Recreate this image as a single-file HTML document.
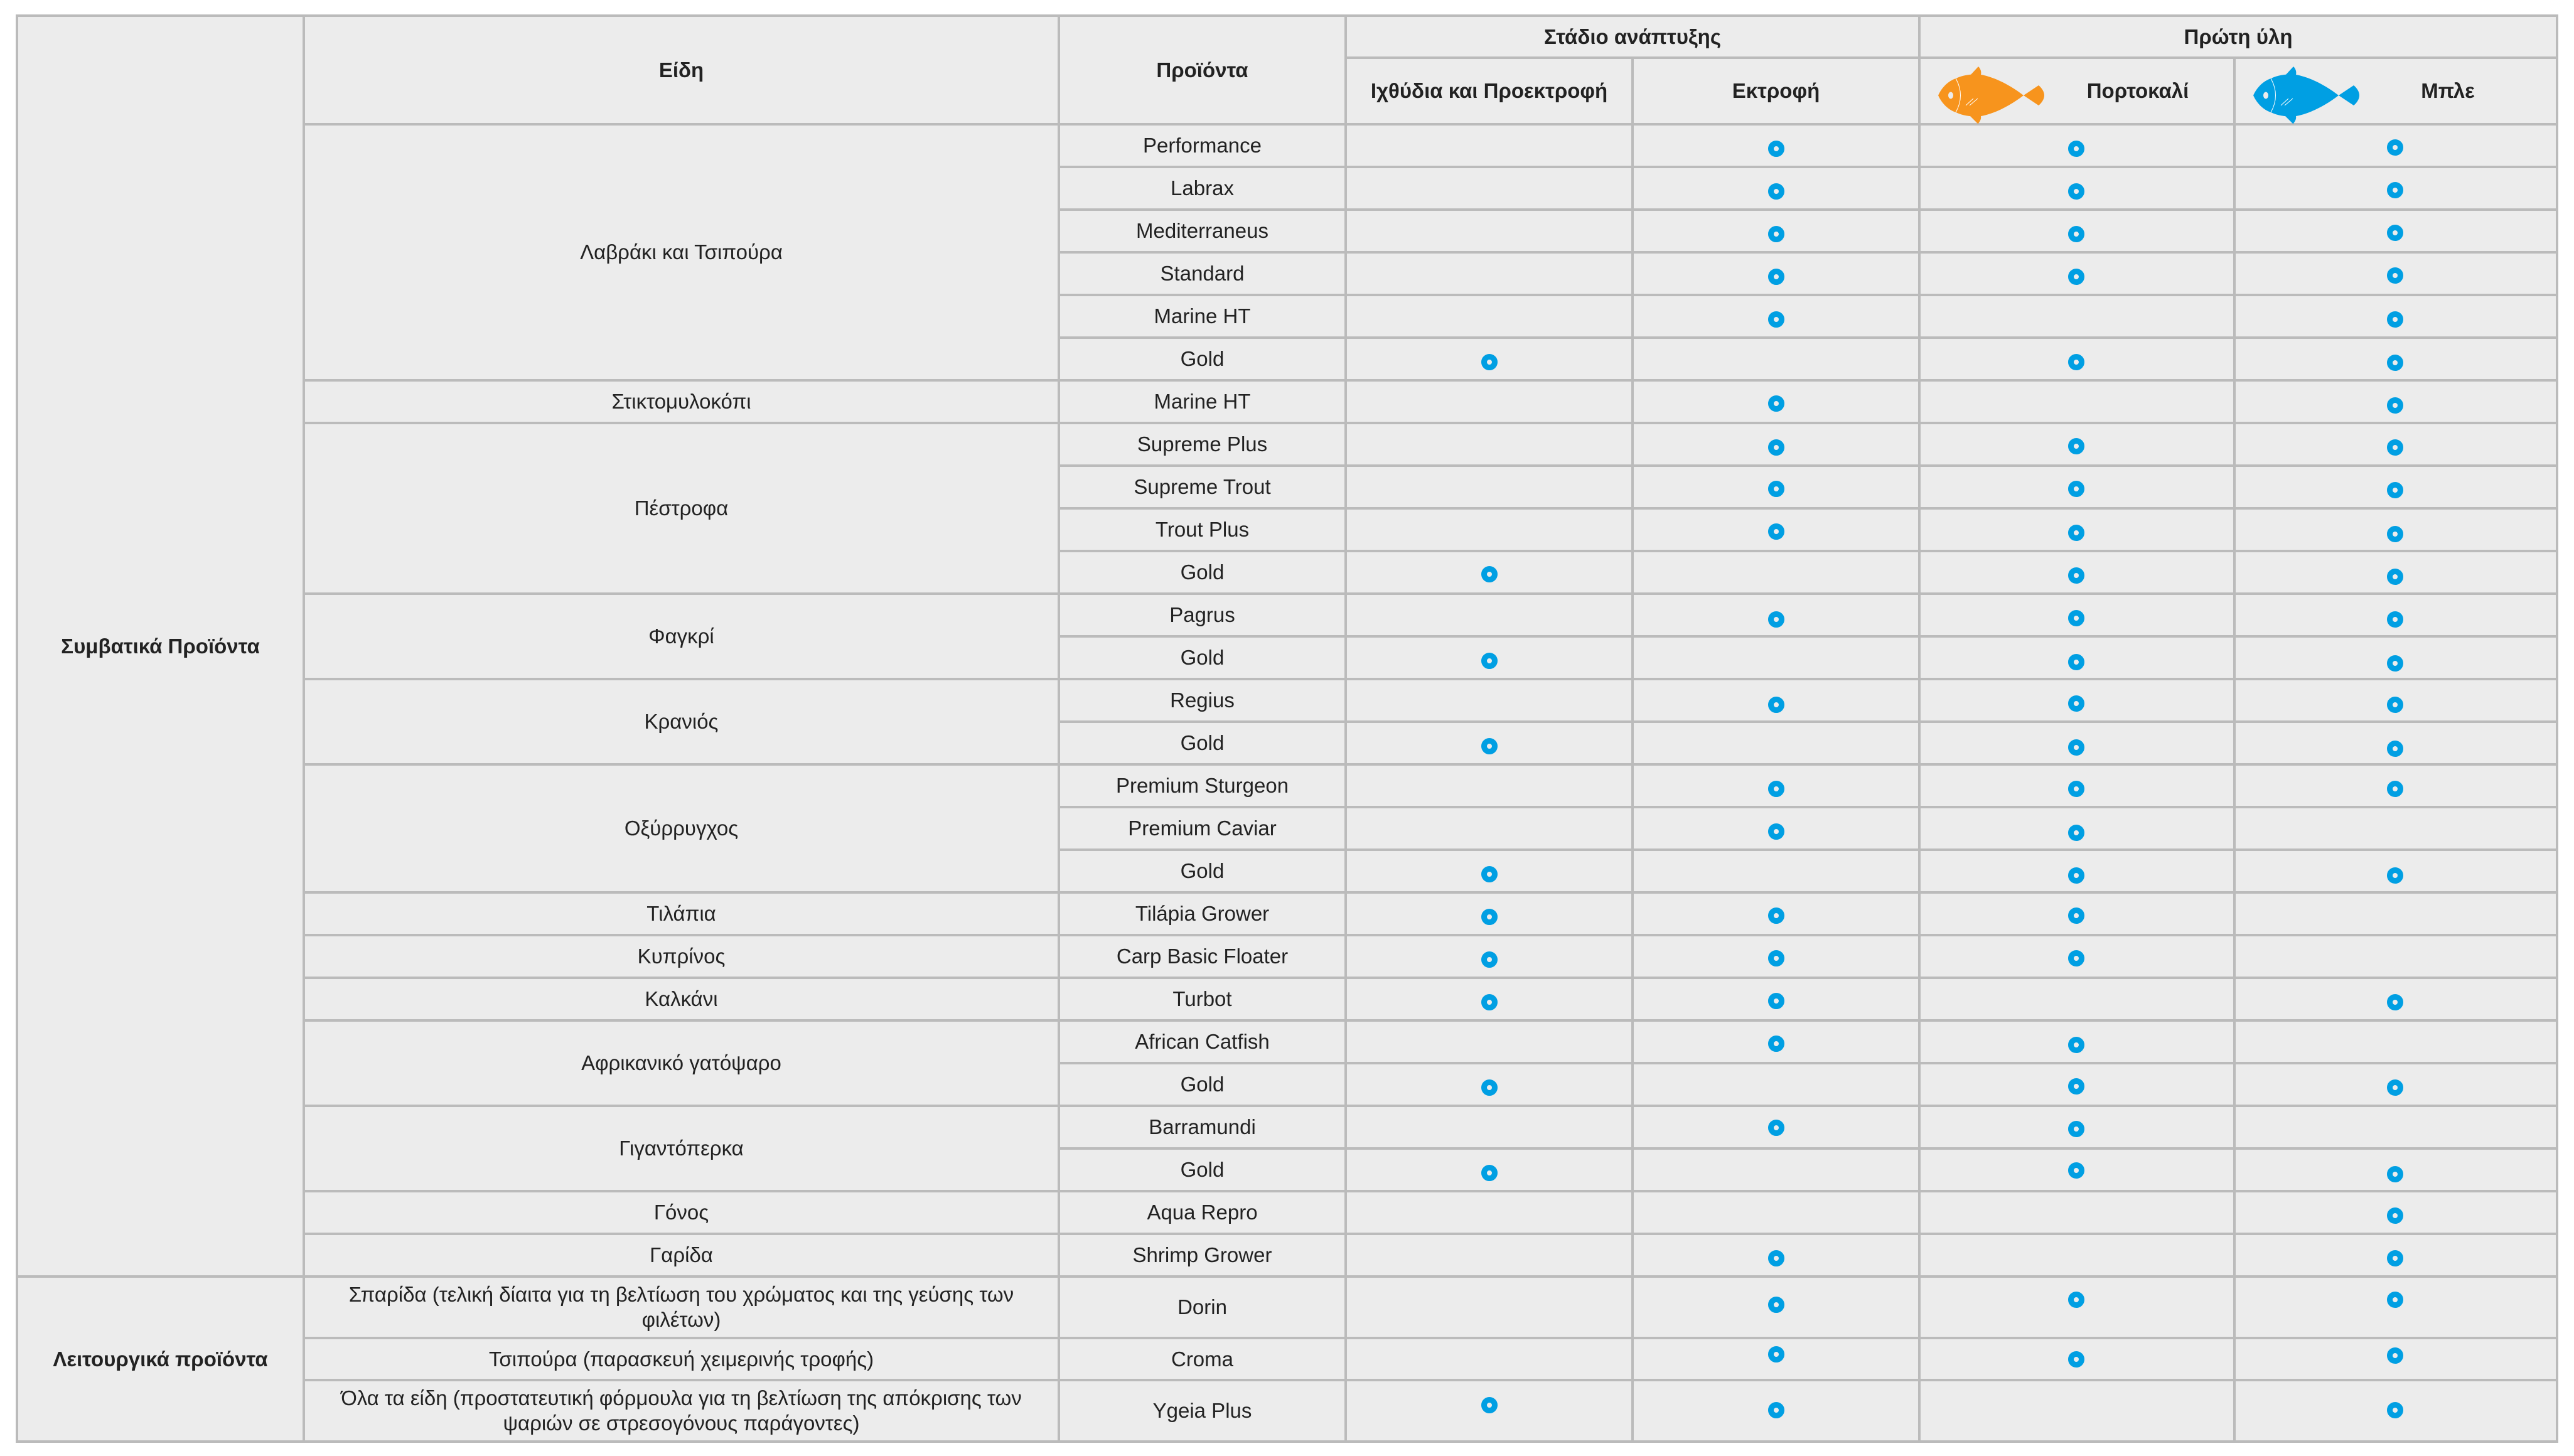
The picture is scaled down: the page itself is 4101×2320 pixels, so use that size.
<!DOCTYPE html>
<html><head><meta charset="utf-8">
<style>
html,body{margin:0;padding:0;background:#fff;}
body{width:4101px;height:2320px;position:relative;overflow:hidden;font-family:"Liberation Sans","Noto Sans CJK SC",sans-serif;}
.box{position:absolute;left:25px;top:23px;width:4051px;height:2276px;box-sizing:border-box;border:4px solid #bbb;background:#ececec;}
.v{position:absolute;width:4px;background:#bbb;}
.h{position:absolute;height:4px;background:#bbb;}
.t{position:absolute;display:flex;align-items:center;justify-content:center;text-align:center;font-size:33px;line-height:40px;color:#222;}
.b{font-weight:bold;}
.m{position:absolute;width:26px;height:26px;box-sizing:border-box;border:9px solid #009fe3;border-radius:50%;background:#ececec;}
.sp{left:482px;width:1207px;}
.pr{left:1685px;width:461px;height:72px;}
.I{left:2360px}.E{left:2817px}.O{left:3295px}.B{left:3803px}
</style></head><body>
<div class="box"></div>

<!-- vertical lines -->
<div class="v" style="left:482px;top:23px;height:2276px"></div>
<div class="v" style="left:1685px;top:23px;height:2276px"></div>
<div class="v" style="left:2142px;top:23px;height:2276px"></div>
<div class="v" style="left:2599px;top:90px;height:2209px"></div>
<div class="v" style="left:3056px;top:23px;height:2276px"></div>
<div class="v" style="left:3558px;top:90px;height:2209px"></div>

<!-- horizontal lines -->
<div class="h" style="left:2142px;width:1934px;top:90px"></div>
<div class="h" style="left:482px;width:3594px;top:196px"></div>
<div class="h" style="left:1685px;width:2391px;top:264px"></div>
<div class="h" style="left:1685px;width:2391px;top:332px"></div>
<div class="h" style="left:1685px;width:2391px;top:400px"></div>
<div class="h" style="left:1685px;width:2391px;top:468px"></div>
<div class="h" style="left:1685px;width:2391px;top:536px"></div>
<div class="h" style="left:482px;width:3594px;top:604px"></div>
<div class="h" style="left:482px;width:3594px;top:672px"></div>
<div class="h" style="left:1685px;width:2391px;top:740px"></div>
<div class="h" style="left:1685px;width:2391px;top:808px"></div>
<div class="h" style="left:1685px;width:2391px;top:876px"></div>
<div class="h" style="left:482px;width:3594px;top:944px"></div>
<div class="h" style="left:1685px;width:2391px;top:1012px"></div>
<div class="h" style="left:482px;width:3594px;top:1080px"></div>
<div class="h" style="left:1685px;width:2391px;top:1148px"></div>
<div class="h" style="left:482px;width:3594px;top:1216px"></div>
<div class="h" style="left:1685px;width:2391px;top:1284px"></div>
<div class="h" style="left:1685px;width:2391px;top:1352px"></div>
<div class="h" style="left:482px;width:3594px;top:1420px"></div>
<div class="h" style="left:482px;width:3594px;top:1488px"></div>
<div class="h" style="left:482px;width:3594px;top:1556px"></div>
<div class="h" style="left:482px;width:3594px;top:1624px"></div>
<div class="h" style="left:1685px;width:2391px;top:1692px"></div>
<div class="h" style="left:482px;width:3594px;top:1760px"></div>
<div class="h" style="left:1685px;width:2391px;top:1828px"></div>
<div class="h" style="left:482px;width:3594px;top:1896px"></div>
<div class="h" style="left:482px;width:3594px;top:1964px"></div>
<div class="h" style="left:25px;width:4051px;top:2032px"></div>
<div class="h" style="left:482px;width:3594px;top:2130px"></div>
<div class="h" style="left:482px;width:3594px;top:2197px"></div>

<!-- headers -->
<div class="t b" style="left:25px;width:461px;top:23px;height:2013px">Συμβατικά Προϊόντα</div>
<div class="t b" style="left:25px;width:461px;top:2032px;height:267px">Λειτουργικά προϊόντα</div>
<div class="t b" style="left:482px;width:1207px;top:23px;height:177px">Είδη</div>
<div class="t b" style="left:1685px;width:461px;top:23px;height:177px">Προϊόντα</div>
<div class="t b" style="left:2142px;width:918px;top:23px;height:71px">Στάδιο ανάπτυξης</div>
<div class="t b" style="left:3056px;width:1020px;top:23px;height:71px">Πρώτη ύλη</div>
<div class="t b" style="left:2142px;width:461px;top:90px;height:110px">Ιχθύδια και Προεκτροφή</div>
<div class="t b" style="left:2599px;width:461px;top:90px;height:110px">Εκτροφή</div>
<div class="t b" style="left:3256px;width:300px;top:90px;height:110px">Πορτοκαλί</div>
<div class="t b" style="left:3760px;width:280px;top:90px;height:110px">Μπλε</div>

<svg style="position:absolute;left:3087px;top:105px" width="171" height="94" viewBox="0 0 171 94">
<g fill="#f7941d">
<path d="M1,47 C6,36 15,25 29,20 C42,14 55,13 67,13.5 C92,18 116,31 137,47 C116,63 92,76 67,80.5 C55,81 42,80 29,74 C15,69 6,58 1,47 Z"/>
<path d="M137,47 L161,31 C167,36 170,42 170,47 C170,52 167,58 161,63 Z"/>
<path d="M52,15 L65,1 C69,5 70,10 69,14 Z"/>
<path d="M52,80 L69,80 C70,85 67,89 64.5,92.5 Z"/>
</g>
<ellipse cx="21" cy="47" rx="4" ry="5.5" fill="#ececec"/>
<path d="M29,20 Q44,47 29,74" stroke="#fff" stroke-width="1" fill="none"/>
<path d="M45,63 L57,52 M51,63 L64,52" stroke="#fff" stroke-width="1" fill="none"/>
</svg>
<svg style="position:absolute;left:3589px;top:105px" width="171" height="94" viewBox="0 0 171 94">
<g fill="#009fe3">
<path d="M1,47 C6,36 15,25 29,20 C42,14 55,13 67,13.5 C92,18 116,31 137,47 C116,63 92,76 67,80.5 C55,81 42,80 29,74 C15,69 6,58 1,47 Z"/>
<path d="M137,47 L161,31 C167,36 170,42 170,47 C170,52 167,58 161,63 Z"/>
<path d="M52,15 L65,1 C69,5 70,10 69,14 Z"/>
<path d="M52,80 L69,80 C70,85 67,89 64.5,92.5 Z"/>
</g>
<ellipse cx="21" cy="47" rx="4" ry="5.5" fill="#ececec"/>
<path d="M29,20 Q44,47 29,74" stroke="#fff" stroke-width="1" fill="none"/>
<path d="M45,63 L57,52 M51,63 L64,52" stroke="#fff" stroke-width="1" fill="none"/>
</svg>

<!-- species -->
<div class="t sp" style="top:196px;height:412px">Λαβράκι και Τσιπούρα</div>
<div class="t sp" style="top:604px;height:72px">Στικτομυλοκόπι</div>
<div class="t sp" style="top:672px;height:276px">Πέστροφα</div>
<div class="t sp" style="top:944px;height:140px">Φαγκρί</div>
<div class="t sp" style="top:1080px;height:140px">Κρανιός</div>
<div class="t sp" style="top:1216px;height:208px">Οξύρρυγχος</div>
<div class="t sp" style="top:1420px;height:72px">Τιλάπια</div>
<div class="t sp" style="top:1488px;height:72px">Κυπρίνος</div>
<div class="t sp" style="top:1556px;height:72px">Καλκάνι</div>
<div class="t sp" style="top:1624px;height:140px">Αφρικανικό γατόψαρο</div>
<div class="t sp" style="top:1760px;height:140px">Γιγαντόπερκα</div>
<div class="t sp" style="top:1896px;height:72px">Γόνος</div>
<div class="t sp" style="top:1964px;height:72px">Γαρίδα</div>
<div class="t sp" style="top:2032px;height:102px">Σπαρίδα (τελική δίαιτα για τη βελτίωση του χρώματος και της γεύσης των<br>φιλέτων)</div>
<div class="t sp" style="top:2130px;height:71px">Τσιπούρα (παρασκευή χειμερινής τροφής)</div>
<div class="t sp" style="top:2197px;height:102px">Όλα τα είδη (προστατευτική φόρμουλα για τη βελτίωση της απόκρισης των<br>ψαριών σε στρεσογόνους παράγοντες)</div>

<!-- products -->
<div class="t pr" style="top:196px">Performance</div>
<div class="t pr" style="top:264px">Labrax</div>
<div class="t pr" style="top:332px">Mediterraneus</div>
<div class="t pr" style="top:400px">Standard</div>
<div class="t pr" style="top:468px">Marine HT</div>
<div class="t pr" style="top:536px">Gold</div>
<div class="t pr" style="top:604px">Marine HT</div>
<div class="t pr" style="top:672px">Supreme Plus</div>
<div class="t pr" style="top:740px">Supreme Trout</div>
<div class="t pr" style="top:808px">Trout Plus</div>
<div class="t pr" style="top:876px">Gold</div>
<div class="t pr" style="top:944px">Pagrus</div>
<div class="t pr" style="top:1012px">Gold</div>
<div class="t pr" style="top:1080px">Regius</div>
<div class="t pr" style="top:1148px">Gold</div>
<div class="t pr" style="top:1216px">Premium Sturgeon</div>
<div class="t pr" style="top:1284px">Premium Caviar</div>
<div class="t pr" style="top:1352px">Gold</div>
<div class="t pr" style="top:1420px">Tilápia Grower</div>
<div class="t pr" style="top:1488px">Carp Basic Floater</div>
<div class="t pr" style="top:1556px">Turbot</div>
<div class="t pr" style="top:1624px">African Catfish</div>
<div class="t pr" style="top:1692px">Gold</div>
<div class="t pr" style="top:1760px">Barramundi</div>
<div class="t pr" style="top:1828px">Gold</div>
<div class="t pr" style="top:1896px">Aqua Repro</div>
<div class="t pr" style="top:1964px">Shrimp Grower</div>
<div class="t pr" style="top:2032px;height:102px">Dorin</div>
<div class="t pr" style="top:2130px;height:71px">Croma</div>
<div class="t pr" style="top:2197px;height:102px">Ygeia Plus</div>

<!-- markers -->
<!-- 0 Performance -->
<div class="m E" style="top:224px"></div><div class="m O" style="top:224px"></div><div class="m B" style="top:222px"></div>
<!-- 1 Labrax -->
<div class="m E" style="top:292px"></div><div class="m O" style="top:292px"></div><div class="m B" style="top:290px"></div>
<!-- 2 Mediterraneus -->
<div class="m E" style="top:360px"></div><div class="m O" style="top:360px"></div><div class="m B" style="top:358px"></div>
<!-- 3 Standard -->
<div class="m E" style="top:428px"></div><div class="m O" style="top:428px"></div><div class="m B" style="top:426px"></div>
<!-- 4 Marine HT -->
<div class="m E" style="top:496px"></div><div class="m B" style="top:496px"></div>
<!-- 5 Gold -->
<div class="m I" style="top:564px"></div><div class="m O" style="top:564px"></div><div class="m B" style="top:565px"></div>
<!-- 6 Marine HT -->
<div class="m E" style="top:630px"></div><div class="m B" style="top:633px"></div>
<!-- 7 Supreme Plus -->
<div class="m E" style="top:700px"></div><div class="m O" style="top:698px"></div><div class="m B" style="top:700px"></div>
<!-- 8 Supreme Trout -->
<div class="m E" style="top:766px"></div><div class="m O" style="top:766px"></div><div class="m B" style="top:768px"></div>
<!-- 9 Trout Plus -->
<div class="m E" style="top:834px"></div><div class="m O" style="top:836px"></div><div class="m B" style="top:838px"></div>
<!-- 10 Gold -->
<div class="m I" style="top:902px"></div><div class="m O" style="top:904px"></div><div class="m B" style="top:906px"></div>
<!-- 11 Pagrus -->
<div class="m E" style="top:974px"></div><div class="m O" style="top:972px"></div><div class="m B" style="top:974px"></div>
<!-- 12 Gold -->
<div class="m I" style="top:1040px"></div><div class="m O" style="top:1042px"></div><div class="m B" style="top:1044px"></div>
<!-- 13 Regius -->
<div class="m E" style="top:1110px"></div><div class="m O" style="top:1108px"></div><div class="m B" style="top:1110px"></div>
<!-- 14 Gold -->
<div class="m I" style="top:1176px"></div><div class="m O" style="top:1178px"></div><div class="m B" style="top:1180px"></div>
<!-- 15 Premium Sturgeon -->
<div class="m E" style="top:1244px"></div><div class="m O" style="top:1244px"></div><div class="m B" style="top:1244px"></div>
<!-- 16 Premium Caviar -->
<div class="m E" style="top:1312px"></div><div class="m O" style="top:1314px"></div>
<!-- 17 Gold -->
<div class="m I" style="top:1380px"></div><div class="m O" style="top:1382px"></div><div class="m B" style="top:1382px"></div>
<!-- 18 Tilapia -->
<div class="m I" style="top:1448px"></div><div class="m E" style="top:1446px"></div><div class="m O" style="top:1446px"></div>
<!-- 19 Carp -->
<div class="m I" style="top:1516px"></div><div class="m E" style="top:1514px"></div><div class="m O" style="top:1514px"></div>
<!-- 20 Turbot -->
<div class="m I" style="top:1584px"></div><div class="m E" style="top:1582px"></div><div class="m B" style="top:1584px"></div>
<!-- 21 African Catfish -->
<div class="m E" style="top:1650px"></div><div class="m O" style="top:1652px"></div>
<!-- 22 Gold -->
<div class="m I" style="top:1720px"></div><div class="m O" style="top:1718px"></div><div class="m B" style="top:1720px"></div>
<!-- 23 Barramundi -->
<div class="m E" style="top:1784px"></div><div class="m O" style="top:1786px"></div>
<!-- 24 Gold -->
<div class="m I" style="top:1856px"></div><div class="m O" style="top:1852px"></div><div class="m B" style="top:1858px"></div>
<!-- 25 Aqua Repro -->
<div class="m B" style="top:1924px"></div>
<!-- 26 Shrimp Grower -->
<div class="m E" style="top:1992px"></div><div class="m B" style="top:1992px"></div>
<!-- Dorin -->
<div class="m E" style="top:2066px"></div><div class="m O" style="top:2058px"></div><div class="m B" style="top:2058px"></div>
<!-- Croma -->
<div class="m E" style="top:2145px"></div><div class="m O" style="top:2153px"></div><div class="m B" style="top:2147px"></div>
<!-- Ygeia Plus -->
<div class="m I" style="top:2226px"></div><div class="m E" style="top:2234px"></div><div class="m B" style="top:2234px"></div>
</body></html>
